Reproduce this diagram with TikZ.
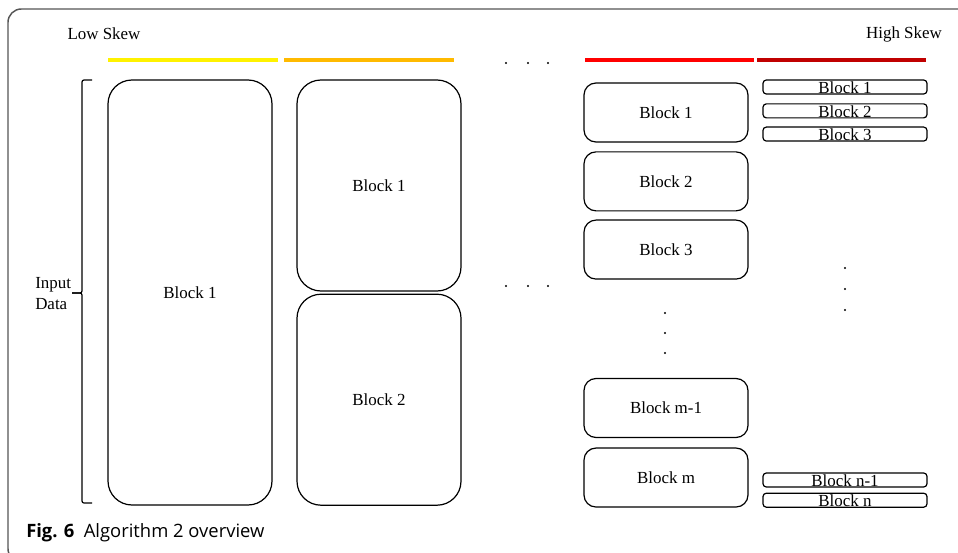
\documentclass[tikz,border=0pt]{standalone}
\usepackage{fontspec}
\setmainfont{Liberation Serif}
\newfontfamily\capfont{Open Sans}
\definecolor{skewyellow}{RGB}{255,242,0}
\definecolor{skeworange}{RGB}{255,186,0}
\definecolor{skewred}{RGB}{255,0,0}
\definecolor{skewdark}{RGB}{192,0,0}
\definecolor{framegray}{RGB}{85,85,85}
\usetikzlibrary{positioning}

\begin{document}
\begin{tikzpicture}[x=0.75pt,y=-0.75pt,
    txt/.style={font=\fontsize{12.7}{15.75}\selectfont,inner sep=0pt},
    blk/.style={txt,draw,line width=0.9pt,minimum width=123pt,align=center},
    tallblk/.style={blk,rounded corners=18pt,minimum height=318.75pt},
    halfblk/.style={blk,rounded corners=18pt,minimum height=158.25pt},
    midblk/.style={blk,rounded corners=9pt,minimum height=44.25pt},
    tinyblk/.style={blk,rounded corners=2.5pt,minimum height=10.5pt,text height=10.2pt,text depth=0.3pt},
    bar/.style={line width=3.4pt},
    dot/.style={fill=black}]
  \useasboundingbox (0,0) rectangle (958,553);
  \begin{scope}
    \clip (0,0) rectangle (958,553);
    \draw[framegray,line width=1.1pt,rounded corners=10pt] (8,9) rectangle (1000,562);
  \end{scope}
  % skew scale
  \node[txt] (low) at (104,34) {Low Skew};
  \node[txt] (high) at (904,34) {High Skew};
  \draw[bar,skewyellow] (108,60) -- (278,60);
  \draw[bar,skeworange] (284,60) -- (454,60);
  \draw[bar,skewred] (585,60) -- (754,60);
  \draw[bar,skewdark] (757,60) -- (926,60);
  \foreach \x in {506,528,548} \fill[dot] (\x,63) circle[radius=0.9pt];
  % input data
  \node[txt,anchor=west,align=left] (input) at (35,294) {Input\\Data};
  \draw[line width=0.9pt,rounded corners=1.5pt] (92,80) -| (82,293) -- (72,293);
  \draw[line width=0.9pt,rounded corners=1.5pt] (72,293) -- (82,293) |- (92,503);
  % one block
  \node[tallblk] (one) at (190,292.5) {Block 1};
  % two blocks
  \node[halfblk] (twoA) at (379,185.5) {Block 1};
  \node[halfblk,below=1.5pt of twoA] (twoB) {Block 2};
  \foreach \x in {506,528,548} \fill[dot] (\x,286) circle[radius=0.9pt];
  % m blocks
  \node[midblk] (mA) at (666,112.5) {Block 1};
  \node[midblk,below=6.5pt of mA] (mB) {Block 2};
  \node[midblk,below=6pt of mB] (mC) {Block 3};
  \foreach \y in {313,333,353} \fill[dot] (665,\y) circle[radius=0.9pt];
  \node[midblk] (mM) at (666,408) {Block m-1};
  \node[midblk,below=7pt of mM] (mN) {Block m};
  % n blocks
  \node[tinyblk] (nA) at (845,87) {Block 1};
  \node[tinyblk,below=6.5pt of nA] (nB) {Block 2};
  \node[tinyblk,below=6pt of nB] (nC) {Block 3};
  \foreach \y in {268,289,310} \fill[dot] (845,\y) circle[radius=0.9pt];
  \node[tinyblk] (nM) at (845,480) {Block n-1};
  \node[tinyblk,below=3.75pt of nM] (nN) {Block n};
  % caption
  \node[anchor=base west,inner sep=0pt,font=\capfont\fontsize{13.8}{16}\selectfont] (cap) at (26,537) {\textbf{Fig. 6}\hspace{7pt}Algorithm 2 overview};
\end{tikzpicture}
\end{document}
